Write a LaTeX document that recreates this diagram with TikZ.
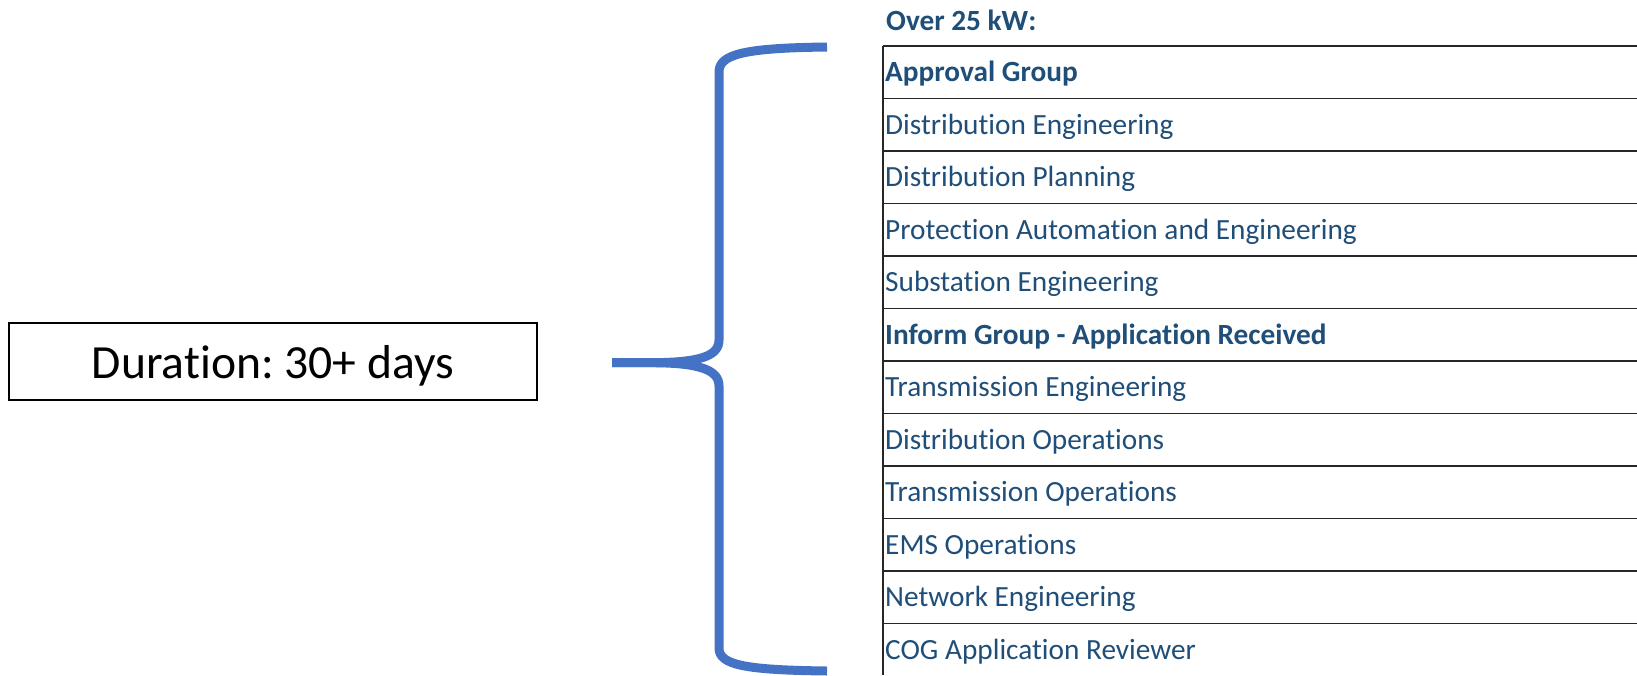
\documentclass[tikz,border=0pt]{standalone}
\usepackage{fontspec}
\setmainfont{Carlito}[Ligatures={NoCommon,NoContextual}]
\definecolor{braceblue}{HTML}{4472C4}
\definecolor{groupblue}{HTML}{1F4E79}
\frenchspacing
\begin{document}
\begin{tikzpicture}[x=1pt,y=-1pt]
        \tikzset{rowtext/.style={anchor=base west, inner sep=0pt, text=groupblue,
                                 font=\fontsize{29.3}{35}\selectfont},
                 rowhead/.style={rowtext, font=\fontsize{29.3}{35}\selectfont\bfseries},
                 rule/.style={line width=1.5pt, black!85},
                 brace/.style={line width=9pt, braceblue, line cap=butt}}
        \useasboundingbox (0,0) rectangle (1637,675);

        \node[draw, line width=1.5pt, inner sep=0pt,
              minimum width=528pt, minimum height=77pt,
              text height=37pt, text depth=3.8pt,
              font=\fontsize{47.6}{56}\selectfont] (duration) at (273,361.7) {Duration: 30+ days};

        \draw[brace] (612,362.7) -- (650,362.7)
                     .. controls (700,362.7) and (719,356) .. (719,340)
                     -- (719,72)
                     .. controls (719,54) and (745,48) .. (827,47);
        \draw[brace] (612,362.7) -- (650,362.7)
                     .. controls (700,362.7) and (719,370) .. (719,386)
                     -- (719,648)
                     .. controls (719,665) and (745,670) .. (827,671);

        \node[rowhead] (title) at (886,30.7) {Over 25 kW:};

        \draw[rule] (883,46) -- (883,675);
        \foreach \i/\rowstyle/\rowlabel in {0/rowhead/Approval Group,
                                           1/rowtext/Distribution Engineering,
                                           2/rowtext/Distribution Planning,
                                           3/rowtext/Protection Automation and Engineering,
                                           4/rowtext/Substation Engineering,
                                           5/rowhead/Inform Group - Application Received,
                                           6/rowtext/Transmission Engineering,
                                           7/rowtext/Distribution Operations,
                                           8/rowtext/Transmission Operations,
                                           9/rowtext/EMS Operations,
                                           10/rowtext/Network Engineering,
                                           11/rowtext/COG Application Reviewer} {
          \draw[rule] (883,46+52.5*\i) -- (1637,46+52.5*\i);
          \node[\rowstyle] (row\i) at (885,81.5+52.5*\i) {\rowlabel};
        }
      \end{tikzpicture}
\end{document}
